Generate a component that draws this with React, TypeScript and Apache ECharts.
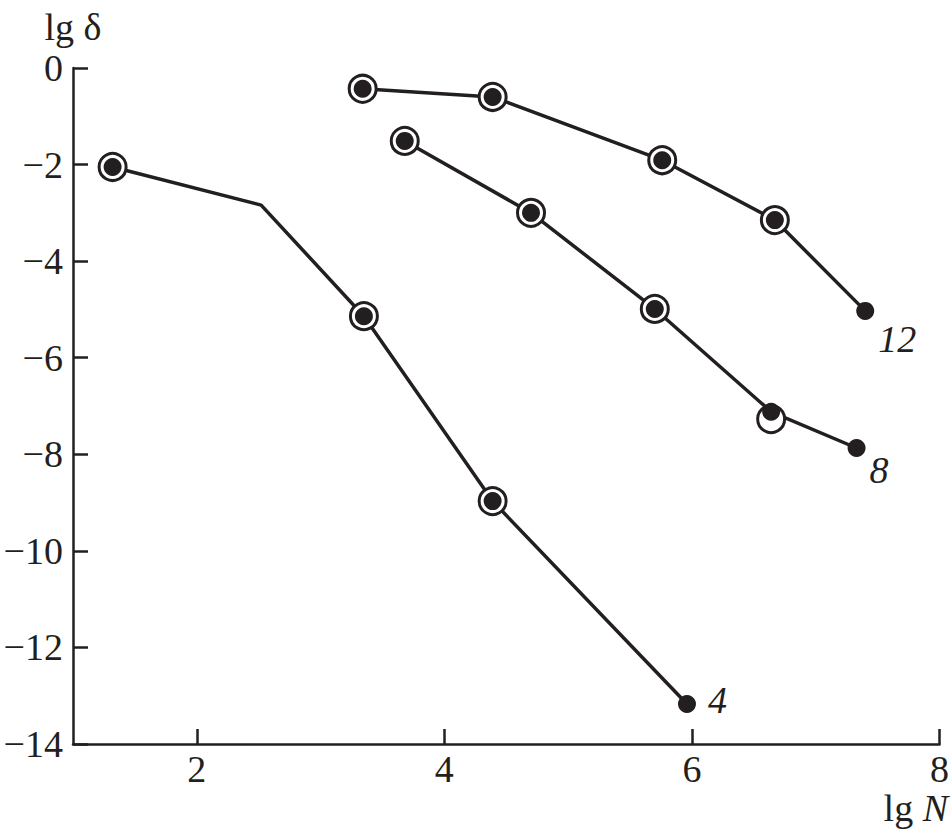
import React, { useEffect, useRef } from "react";
import * as echarts from "echarts";

// Curve "4"
const curve4Line: [number, number][] = [[1.32, -2.05], [2.52, -2.84], [3.35, -5.14], [4.39, -8.97], [5.96, -13.17]];
const curve4Rings: [number, number][] = [[1.32, -2.05], [3.35, -5.14], [4.39, -8.97]];
const curve4Dots: [number, number][] = [[1.32, -2.05], [3.35, -5.14], [4.39, -8.97], [5.96, -13.17]];

// Curve "8"
const curve8Line: [number, number][] = [[3.68, -1.51], [4.70, -3.0], [5.70, -4.99], [6.64, -7.12], [7.33, -7.87]];
const curve8Rings: [number, number][] = [[3.68, -1.51], [4.70, -3.0], [5.70, -4.99], [6.64, -7.27]];
const curve8Dots: [number, number][] = [[3.68, -1.51], [4.70, -3.0], [5.70, -4.99], [6.64, -7.12], [7.33, -7.87]];

// Curve "12"
const curve12Line: [number, number][] = [[3.34, -0.43], [4.39, -0.6], [5.76, -1.91], [6.67, -3.15], [7.40, -5.03]];
const curve12Rings: [number, number][] = [[3.34, -0.43], [4.39, -0.6], [5.76, -1.91], [6.67, -3.15]];
const curve12Dots: [number, number][] = [[3.34, -0.43], [4.39, -0.6], [5.76, -1.91], [6.67, -3.15], [7.40, -5.03]];

const curveNames = ["4", "8", "12"];
const xTicks = [2, 4, 6, 8];
const yTicks = [0, -2, -4, -6, -8, -10, -12, -14];

const INK = "#231f20";
const FONT = "'Liberation Serif', 'Times New Roman', serif";

export default function App() {
  const ref = useRef<HTMLDivElement>(null);
  useEffect(() => {
    document.body.style.margin = "0";
    if (!ref.current) return;
    const chart = echarts.init(ref.current, undefined, { renderer: "svg" });
    const fmt = (v: number) => (v < 0 ? "\u2212" + Math.abs(v) : String(v));

    const lines = [curve4Line, curve8Line, curve12Line];
    const rings = [curve4Rings, curve8Rings, curve12Rings];
    const dots = [curve4Dots, curve8Dots, curve12Dots];
    const labelOffsets: [number, number][] = [[7, -4], [-1, 22], [-1, 28]];

    const series: any[] = [];
    lines.forEach((d) => {
      series.push({
        type: "line",
        data: d,
        symbol: "none",
        lineStyle: { color: INK, width: 3.5 },
        z: 2,
      });
    });
    rings.forEach((d) => {
      series.push({
        type: "scatter",
        data: d,
        symbol: "circle",
        symbolSize: 27,
        itemStyle: { color: "#ffffff", borderColor: INK, borderWidth: 3, opacity: 1 },
        z: 3,
      });
    });
    dots.forEach((d, i) => {
      series.push({
        type: "scatter",
        data: d.map((p, j) =>
          j === d.length - 1
            ? {
                value: p,
                label: {
                  show: true,
                  formatter: curveNames[i],
                  position: "right",
                  offset: labelOffsets[i],
                  fontFamily: FONT,
                  fontStyle: "italic",
                  fontSize: 38,
                  color: INK,
                },
              }
            : { value: p }
        ),
        symbol: "circle",
        symbolSize: 18,
        itemStyle: { color: INK, opacity: 1 },
        z: 4,
      });
    });

    chart.setOption({
      animation: false,
      backgroundColor: "#ffffff",
      textStyle: { fontFamily: FONT, color: INK },
      grid: { left: 73, right: 11, top: 68, bottom: 90, containLabel: false },
      xAxis: {
        type: "value",
        min: 1,
        max: 8,
        axisLine: { show: true, onZero: false, lineStyle: { color: INK, width: 2.5 } },
        axisTick: { show: true, inside: true, length: 15, customValues: xTicks, lineStyle: { color: INK, width: 2.5 } },
        axisLabel: { customValues: xTicks, fontFamily: FONT, fontSize: 38, color: INK, margin: 6, formatter: fmt },
        splitLine: { show: false },
      },
      yAxis: {
        type: "value",
        min: -14,
        max: 0,
        interval: 2,
        axisLine: { show: true, onZero: false, lineStyle: { color: INK, width: 2.5 } },
        axisTick: { show: true, inside: true, length: 15, lineStyle: { color: INK, width: 2.5 } },
        axisLabel: { fontFamily: FONT, fontSize: 38, color: INK, margin: 10, formatter: fmt },
        splitLine: { show: false },
        name: "lg \u03b4",
        nameLocation: "end",
        nameGap: 22,
        nameTextStyle: { fontFamily: FONT, fontSize: 38, color: INK, align: "center" },
      },
      graphic: [
        {
          type: "text",
          right: 4,
          top: 789,
          style: {
            text: "{a|lg }{b|N}",
            rich: {
              a: { fontFamily: FONT, fontSize: 38, fill: INK },
              b: { fontFamily: FONT, fontSize: 38, fontStyle: "italic", fill: INK },
            },
          },
        },
      ],
      series,
    });
    return () => chart.dispose();
  }, []);
  return <div ref={ref} style={{ width: 952, height: 834 }} />;
}
